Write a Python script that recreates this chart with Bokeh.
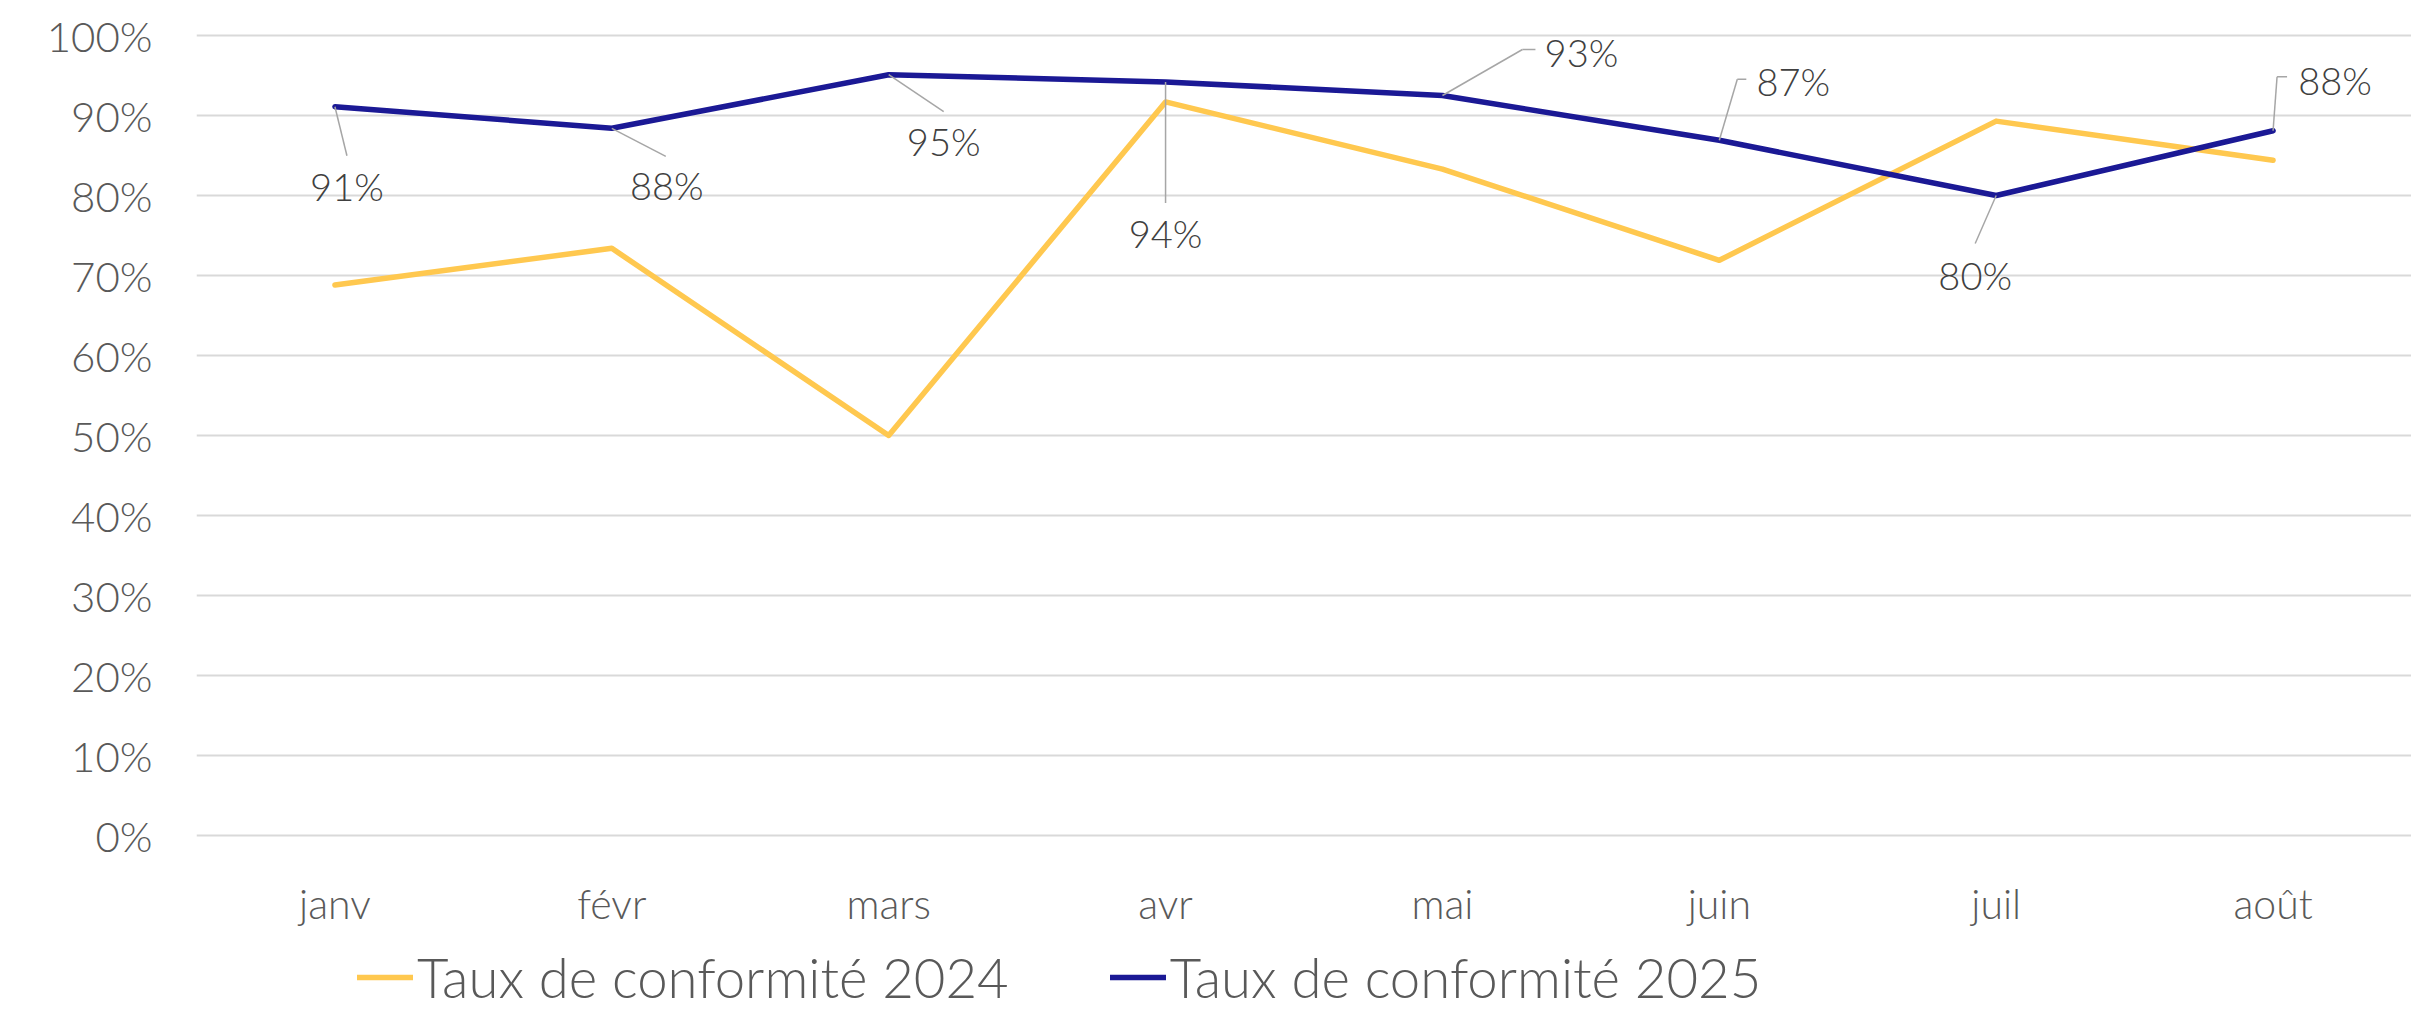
from bokeh.plotting import figure
from bokeh.models import Range1d, FactorRange, FixedTicker, Legend, LegendItem, ColumnDataSource
from bokeh.core.properties import value
from bokeh.embed import file_html
from bokeh.resources import INLINE

# ---- data ----
months = ["janv", "févr", "mars", "avr", "mai", "juin", "juil", "août"]
taux_2024 = [68.8, 73.4, 50.0, 91.7, 83.3, 71.9, 89.3, 84.4]
taux_2025 = [91.1, 88.4, 95.1, 94.2, 92.5, 86.9, 80.0, 88.1]
labels_2025 = ["91%", "88%", "95%", "94%", "93%", "87%", "80%", "88%"]
y_ticks = [0, 10, 20, 30, 40, 50, 60, 70, 80, 90, 100]
y_tick_labels = ["0%", "10%", "20%", "30%", "40%", "50%", "60%", "70%", "80%", "90%", "100%"]
series_names = ["Taux de conformité 2024", "Taux de conformité 2025"]

# ---- layout ----
FONT = "Lato Light"
W, H = 2411, 1010
B_LEFT, B_RIGHT, B_TOP, B_BOTTOM = 196, 0, 19, 0
FRAME_W = W - B_LEFT - B_RIGHT
FRAME_H = H - B_TOP - B_BOTTOM
PX_PER_PCT = 8.0
Y_MAX = 102
Y_MIN = Y_MAX - FRAME_H / PX_PER_PCT
PX_PER_CAT = FRAME_W / len(months)
CAT_BASELINE_PX = 68          # category label anchor, px below the 0% line

YELLOW = "#FFC84F"
NAVY = "#1B1995"
TEXT_GREY = "#595959"

p = figure(width=W, height=H, x_range=FactorRange(*months, range_padding=0),
           y_range=Range1d(Y_MIN, Y_MAX), output_backend="svg", toolbar_location=None,
           min_border_left=B_LEFT, min_border_right=B_RIGHT,
           min_border_top=B_TOP, min_border_bottom=B_BOTTOM)
p.outline_line_color = None
p.background_fill_color = "white"
p.border_fill_color = "white"

r24 = p.line(months, taux_2024, line_color=YELLOW, line_width=5.5, line_join="round", line_cap="round")
r25 = p.line(months, taux_2025, line_color=NAVY, line_width=5.5, line_join="round", line_cap="round")

# grid + y axis
p.xgrid.grid_line_color = None
p.ygrid.ticker = FixedTicker(ticks=y_ticks)
p.ygrid.grid_line_color = "#D9D9D9"
p.ygrid.grid_line_width = 2

yax = p.yaxis[0]
yax.ticker = FixedTicker(ticks=y_ticks)
yax.major_label_overrides = {t: l for t, l in zip(y_ticks, y_tick_labels)}
yax.axis_line_color = None
yax.major_tick_line_color = None
yax.minor_tick_line_color = None
yax.major_tick_out = 0
yax.major_tick_in = 0
yax.major_label_standoff = 44
yax.major_label_text_font = FONT
yax.major_label_text_font_size = "42px"
yax.major_label_text_color = TEXT_GREY

# category labels drawn on the categorical scale inside the (extended) frame
p.xaxis.visible = False
p.text(x=months, y=[-CAT_BASELINE_PX / PX_PER_PCT] * len(months), text=months,
       text_align="center", text_baseline="alphabetic",
       text_font=value(FONT), text_font_size="41px", text_color=TEXT_GREY)

# ---- data labels (pixel offsets from each point) ----
lab_dx = [12, 55, 55, 0, 139, 74, -21, 62]
lab_dy = [79, 57, 66, 151, -44, -59, 79, -51]   # positive = downwards
leaders = [
    [(12, 49)],
    [(54, 28)],
    [(55, 37)],
    [(0, 121)],
    [(80, -46), (93, -46)],
    [(18, -61), (27, -61)],
    [(-21, 48)],
    [(4, -54), (14, -54)],
]

def to_x(i, dx):
    return (i + 0.5) + dx / PX_PER_CAT

seg_x0, seg_x1, seg_y0, seg_y1 = [], [], [], []
for i, v in enumerate(taux_2025):
    xs = [to_x(i, 0)] + [to_x(i, d[0]) for d in leaders[i]]
    ys = [v] + [v - d[1] / PX_PER_PCT for d in leaders[i]]
    for a in range(len(xs) - 1):
        seg_x0.append(xs[a]); seg_x1.append(xs[a + 1])
        seg_y0.append(ys[a]); seg_y1.append(ys[a + 1])

p.segment(x0="x0", y0="y0", x1="x1", y1="y1",
          source=ColumnDataSource(dict(x0=seg_x0, x1=seg_x1, y0=seg_y0, y1=seg_y1)),
          line_color="#A6A6A6", line_width=1.5)

src_lab = ColumnDataSource(dict(
    x=[to_x(i, lab_dx[i]) for i in range(len(months))],
    y=[taux_2025[i] - lab_dy[i] / PX_PER_PCT for i in range(len(months))],
    t=labels_2025))
p.text(x="x", y="y", text="t", source=src_lab, text_align="center", text_baseline="middle",
       text_font=value(FONT), text_font_size="38px", text_color="#404040")

# ---- legend ----
legend = Legend(items=[LegendItem(label=series_names[0], renderers=[r24]),
                       LegendItem(label=series_names[1], renderers=[r25])],
                orientation="horizontal", location=(161, 0),
                label_text_font=FONT, label_text_font_size="54.5px", label_text_color=TEXT_GREY,
                label_text_line_height=0.85,
                glyph_width=56, glyph_height=20, label_height=20, label_standoff=4, spacing=101,
                padding=0, margin=0, border_line_color=None, background_fill_alpha=0)
p.add_layout(legend, "center")

open("out.html", "w").write(file_html(p, INLINE))
